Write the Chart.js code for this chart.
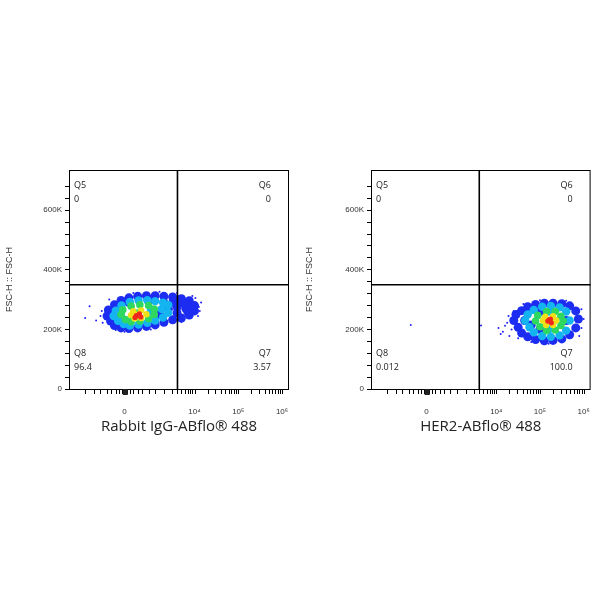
<!DOCTYPE html>
<html><head><meta charset="utf-8">
<script src="https://cdn.jsdelivr.net/npm/chart.js@4"></script>
<style>
body{margin:0;background:#fff;width:600px;height:600px;position:relative;font-family:"Segoe UI","Open Sans",sans-serif}
.wrap{position:absolute;top:160px;width:300px;height:280px}
</style></head><body>
<div class="wrap" style="left:0"><canvas id="c1"></canvas></div>
<div class="wrap" style="left:300px"><canvas id="c2"></canvas></div>
<script>
// x in display units: 10^4 -> 4, 10^5 -> 5, 10^6 -> 6, "0" -> 2.4 ; y in K
const xTicks = [[2.4, '0'], [4, '10⁴'], [5, '10⁵'], [6, '10⁶']];
const xMinor = [1.5, 1.7, 1.85, 2.0, 2.1, 2.2, 2.28, 2.34, 2.38, 2.42, 2.46, 2.52, 2.6, 2.7, 2.8, 2.95, 3.1, 3.3, 3.48, 3.6, 3.7, 3.78, 3.85, 3.9, 3.95];
const yMajor = [0, 200, 400, 600];
const gateX = 3.61, gateY = 350;

const panel1 = {
  title: 'Rabbit IgG-ABflo® 488',
  quad: { Q5: '0', Q6: '0', Q8: '96.4', Q7: '3.57' },
  sparse: [[1.6, 278], [1.5, 238], [1.75, 230], [4.15, 290], [4.12, 262], [1.88, 262], [1.9, 222], [2.05, 300], [2.2, 198], [2.6, 322], [3.2, 326], [3.6, 322], [4.02, 305], [4.08, 245], [3.7, 225], [2.4, 192], [3.0, 200], [1.85, 245], [2.1, 210], [3.95, 312], [4.1, 275]],
  blue: [[2.0,245],[2.03,265],[2.08,228],[2.17,283],[2.17,213],[2.32,297],[2.32,205],[2.5,306],[2.5,203],[2.7,311],[2.7,205],[2.9,313],[2.9,210],[3.1,313],[3.1,215],[3.3,311],[3.3,224],[3.5,309],[3.5,232],[3.7,303],[3.7,238],[3.88,296],[3.88,248],[4.0,280],[4.0,262],[3.6,275],[3.8,270],[3.4,268],[3.95,272],[3.75,288],[3.6,255],[3.3,290],[3.5,290],[3.2,250],[2.3,250],[2.5,290],[3.0,300],[3.85,258],[3.6,300]],
  cyan: [[2.15,245],[2.2,263],[2.25,229],[2.33,280],[2.38,218],[2.52,292],[2.52,213],[2.72,297],[2.72,216],[2.92,298],[2.92,222],[3.1,295],[3.1,230],[3.28,290],[3.28,240],[3.4,282],[3.4,256],[3.25,268],[3.0,260]],
  green: [[2.32,250],[2.36,266],[2.42,233],[2.55,278],[2.55,226],[2.75,283],[2.75,228],[2.95,280],[2.95,236],[3.08,268],[3.08,250],[2.7,255]],
  yellow: [[2.55,248],[2.6,261],[2.63,237],[2.78,264],[2.78,238],[2.9,251],[2.72,250]],
  red: [[2.67,246],[2.74,252],[2.77,242],[2.64,240]]
};
const panel2 = {
  title: 'HER2-ABflo® 488',
  quad: { Q5: '0', Q6: '0', Q8: '0.012', Q7: '100.0' },
  sparse: [[2.04, 215], [3.65, 213], [4.05, 205], [4.15, 192], [4.2, 212], [4.1, 185], [4.25, 222], [4.28, 245], [4.35, 200], [4.3, 178], [4.5, 170], [4.62, 285], [5.0, 298], [5.6, 296], [5.95, 268], [6.0, 235], [5.9, 178], [5.2, 152], [4.8, 158], [4.4, 262], [5.95, 205]],
  blue: [[4.4,230],[4.45,250],[4.5,207],[4.58,263],[4.58,188],[4.72,276],[4.72,175],[4.9,284],[4.9,166],[5.1,288],[5.1,162],[5.3,288],[5.3,163],[5.5,286],[5.5,168],[5.68,279],[5.68,182],[5.82,262],[5.82,205],[5.88,235],[5.3,230],[4.65,230],[5.6,230],[5.0,200],[5.0,260],[4.8,215]],
  cyan: [[4.66,230],[4.72,250],[4.76,207],[4.86,265],[4.86,190],[5.05,276],[5.05,178],[5.25,279],[5.25,175],[5.45,274],[5.45,180],[5.6,260],[5.6,196],[5.68,230],[5.2,200],[5.2,260]],
  green: [[4.9,228],[4.95,247],[5.0,209],[5.15,260],[5.15,196],[5.35,260],[5.35,198],[5.48,244],[5.48,213],[5.53,228]],
  yellow: [[5.07,230],[5.12,243],[5.14,215],[5.3,244],[5.3,215],[5.37,230],[5.22,230]],
  red: [[5.18,228],[5.24,235],[5.26,222],[5.21,232]]
};

// order: higher values are drawn first (underneath)
function ds(arr, color, r, order) {
  return { data: arr.map(p => ({ x: p[0], y: p[1] })), backgroundColor: color, borderWidth: 0, pointRadius: r, order: order };
}

const frame = {
  id: 'frame',
  afterDatasetsDraw(chart, args, opts) {
    const { ctx, chartArea: a, scales: { x, y } } = chart;
    ctx.save();
    ctx.strokeStyle = '#000';
    ctx.lineWidth = 1;
    ctx.strokeRect(a.left + 0.5, a.top + 0.5, a.right - a.left - 1, a.bottom - a.top);
    ctx.lineWidth = 1.6;
    const gx = x.getPixelForValue(gateX), gy = y.getPixelForValue(gateY);
    ctx.beginPath();
    ctx.moveTo(gx, a.top); ctx.lineTo(gx, a.bottom);
    ctx.moveTo(a.left, gy); ctx.lineTo(a.right, gy);
    ctx.stroke();
    ctx.fillStyle = '#222';
    ctx.font = '9px "Open Sans", sans-serif';
    const q = opts.quad;
    ctx.textAlign = 'left';
    ctx.fillText('Q5', a.left + 5, a.top + 18); ctx.fillText(q.Q5, a.left + 5, a.top + 32);
    ctx.fillText('Q8', a.left + 5, a.bottom - 33); ctx.fillText(q.Q8, a.left + 5, a.bottom - 19);
    ctx.textAlign = 'right';
    ctx.fillText('Q6', a.right - 18, a.top + 18); ctx.fillText(q.Q6, a.right - 18, a.top + 32);
    ctx.fillText('Q7', a.right - 18, a.bottom - 33); ctx.fillText(q.Q7, a.right - 18, a.bottom - 19);
    // x minor ticks
    ctx.lineWidth = 1;
    ctx.beginPath();
    const minors = xMinor.slice();
    for (let d = 3; d <= 5; d++) for (let k = 2; k <= 9; k++) {
      const v = d + Math.log10(k);
      if (v > 4) minors.push(v);
    }
    minors.concat(xTicks.map(t => t[0])).forEach(v => {
      const px = Math.round(x.getPixelForValue(v)) + 0.5;
      if (px < a.left || px > a.right) return;
      ctx.moveTo(px, a.bottom); ctx.lineTo(px, a.bottom + 5);
    });
    ctx.stroke();
    ctx.fillRect(x.getPixelForValue(2.36), a.bottom, 5, 6);
    ctx.restore();
  }
};

function make(id, p, yw, pr) {
  new Chart(document.getElementById(id), {
    type: 'scatter',
    data: {
      datasets: [
        ds(p.sparse, '#2020ff', 1, 6),
        ds(p.blue, '#1c2cf0', 4.5, 5),
        ds(p.cyan, '#14b4f0', 4.2, 4),
        ds(p.green, '#2ed860', 3.8, 3),
        ds(p.yellow, '#f0e018', 3.2, 2),
        ds(p.red, '#f0281c', 2.6, 1)
      ]
    },
    options: {
      responsive: true, maintainAspectRatio: false, animation: false,
      layout: { padding: { top: 10, right: pr, left: 0, bottom: 0 } },
      events: [],
      plugins: { legend: { display: false }, tooltip: { enabled: false }, frame: { quad: p.quad } },
      scales: {
        x: {
          type: 'linear', min: 1.13, max: 6.16,
          afterBuildTicks: s => { s.ticks = xTicks.map(t => ({ value: t[0] })); },
          afterFit: s => { s.height = 51; },
          grid: { display: false }, border: { display: false },
          ticks: { color: '#333', font: { size: 8 }, padding: 10, maxRotation: 0,
            callback: v => (xTicks.find(t => t[0] === v) || [0, ''])[1] },
          title: { display: true, text: p.title, color: '#222', font: { size: 15, family: '"Open Sans", sans-serif' }, padding: { top: 0 } }
        },
        y: {
          min: 0, max: 735,
          afterBuildTicks: s => { const t = []; for (let v = 0; v <= 700; v += 40) t.push({ value: v }); s.ticks = t; },
          afterFit: s => { s.width = yw; },
          grid: { drawOnChartArea: false, tickLength: 4, color: '#000' }, border: { display: false },
          ticks: { color: '#333', font: { size: 8 }, padding: 3, autoSkip: false,
            callback: v => yMajor.includes(v) ? (v === 0 ? '0' : v + 'K') : '' },
          title: { display: true, text: 'FSC-H :: FSC-H', color: '#333', font: { size: 9 }, padding: { bottom: 14 } }
        }
      }
    },
    plugins: [frame]
  });
}
make('c1', panel1, 69, 11);
make('c2', panel2, 71, 9);
</script>
</body></html>
